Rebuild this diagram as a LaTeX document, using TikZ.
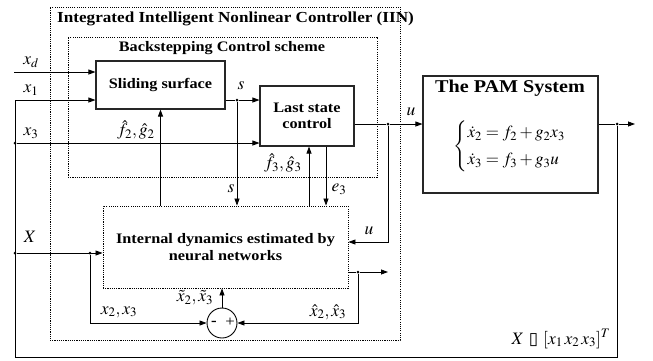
\documentclass[tikz,border=0pt]{standalone}
\usepackage{mathptmx}
\usepackage{fontspec}
\setmainfont[FakeStretch=1.12]{Liberation Serif}
\newfontfamily\symfont{DejaVu Sans}
\usetikzlibrary{arrows.meta}
\begin{document}
\begin{tikzpicture}[x=1pt,y=-1pt,
  box/.style={draw=black!85, line width=1.1pt, fill=white, font=\bfseries\fontsize{14.5}{16}\selectfont, align=center, inner sep=0pt},
  dotbox/.style={draw, line width=0.9pt, dash pattern=on 1.1pt off 1.1pt, inner sep=0pt},
  conn/.style={line width=0.8pt},
  arr/.style={conn, -{Triangle[length=7pt,width=5pt]}},
  dot/.style={circle, fill, inner sep=0pt, minimum size=3pt},
  lbl/.style={font=\fontsize{17.5}{20}\selectfont, inner sep=0pt},
  ttl/.style={font=\bfseries\fontsize{14.5}{16}\selectfont, inner sep=0pt}]
\useasboundingbox[fill=white] (0,0) rectangle (653,360);

% containers
\node[dotbox, minimum width=350pt, minimum height=333pt] (iin) at (225,173.5) {};
\node[ttl, font=\bfseries\fontsize{15.3}{17}\selectfont, anchor=west] (iint) at (57,19) {Integrated Intelligent Nonlinear Controller (IIN)};
\node[dotbox, minimum width=309pt, minimum height=140pt] (bcs) at (222.5,107) {};
\node[ttl] (bcst) at (222,48) {Backstepping Control scheme};

% blocks
\node[box, minimum width=129pt, minimum height=48pt] (ss) at (160.5,85) {Sliding surface};
\node[box, minimum width=94pt, minimum height=60pt] (lsc) at (307,116) {Last state\\control};
\node[box, minimum width=175pt, minimum height=117pt] (pam) at (510.5,134.5) {};
\node[ttl, font=\bfseries\fontsize{18}{20}\selectfont] (pamt) at (510,88) {The PAM System};
\node[lbl, font=\fontsize{17}{20}\selectfont] (eq) at (510,146) {\renewcommand{\arraystretch}{1.35}$\left\{\begin{array}{@{}l@{}} \dot{x}_2 = f_2 + g_2x_3\\ \dot{x}_3 = f_3 + g_3u\end{array}\right.$};
\node[dotbox, fill=white, minimum width=245pt, minimum height=82pt, font=\bfseries\fontsize{14.5}{17}\selectfont, align=center] (nn) at (225.5,247) {Internal dynamics estimated by\\neural networks};
\node[circle, draw, line width=0.9pt, minimum size=30pt, inner sep=0pt] (sum) at (222,323) {};
\node[font=\fontsize{15}{16}\selectfont\bfseries, inner sep=0pt] (minus) at (214,323) {-};
\node[font=\fontsize{15}{16}\selectfont, inner sep=0pt] (plus) at (230,322.5) {+};

% junctions
\coordinate (xd) at (14,72);
\coordinate (c1) at (15,100);
\coordinate (cb) at (15,357);
\node[dot] (d3) at (15,143) {};
\node[dot] (dX) at (15,253) {};
\node[dot] (dX2) at (90,253) {};
\node[dot] (ds) at (237,100) {};
\node[dot] (du) at (388,124) {};
\node[dot] (dout) at (617,124) {};
\node[dot] (dn) at (358,272) {};
\coordinate (yout) at (635,124);
\coordinate (nnout) at (388,272);
\coordinate (ucor) at (388,242);
\coordinate (ncor) at (358,323);
\coordinate (xcor) at (90,323);
\coordinate (f3x) at (309,0);
\coordinate (e3x) at (326,0);

% connectors
\draw[arr] (xd) -- (ss.west |- xd);
\draw[arr] (c1) -- (ss.west |- c1);
\draw[arr] (d3) -- (lsc.west |- d3);
\draw[arr] (dX) -- (nn.west |- dX);
\draw[conn] (dout) -- (dout |- cb) -- (cb) -- (c1);
\draw[conn] (ss.east |- ds) -- (ds);
\draw[arr] (ds) -- (lsc.west |- ds);
\draw[arr] (ds) -- (ds |- nn.north);
\draw[arr] (nn.north -| ss.south) -- (ss.south);
\draw[arr] (nn.north -| f3x) -- (lsc.south -| f3x);
\draw[arr] (lsc.south -| e3x) -- (nn.north -| e3x);
\draw[conn] (lsc.east |- du) -- (du);
\draw[arr] (du) -- (pam.west |- du);
\draw[arr] (du) -- (ucor) -- (nn.east |- ucor);
\draw[conn] (pam.east |- dout) -- (dout);
\draw[arr] (dout) -- (yout);
\draw[conn] (nn.east |- dn) -- (dn);
\draw[arr] (dn) -- (nnout);
\draw[arr] (dn) -- (ncor) -- (sum.east);
\draw[arr] (dX2) -- (xcor) -- (sum.west);
\draw[arr] (sum.north) -- (sum.north |- nn.south);

% labels
\node[lbl] at (31,62) {$x_d$};
\node[lbl] at (31,90) {$x_1$};
\node[lbl] at (31,133) {$x_3$};
\node[lbl] at (30,237) {$X$};
\node[lbl] at (241,86) {$s$};
\node[lbl] at (231,189) {$s$};
\node[lbl] at (136,130) {$\hat{f}_2,\hat{g}_2$};
\node[lbl] at (283,163) {$\hat{f}_3,\hat{g}_3$};
\node[lbl] at (339,189) {$e_3$};
\node[lbl] at (411,112) {$u$};
\node[lbl] at (369,231) {$u$};
\node[lbl] at (195,298) {$\tilde{x}_2,\tilde{x}_3$};
\node[lbl] at (119,312) {$x_2,x_3$};
\node[lbl] at (328,312) {$\hat{x}_2,\hat{x}_3$};
\node[lbl] at (561,339) {$X$ {\symfont\fontsize{17}{19}\selectfont ▯} $[x_1\,x_2\,x_3]^T$};
\end{tikzpicture}
\end{document}
